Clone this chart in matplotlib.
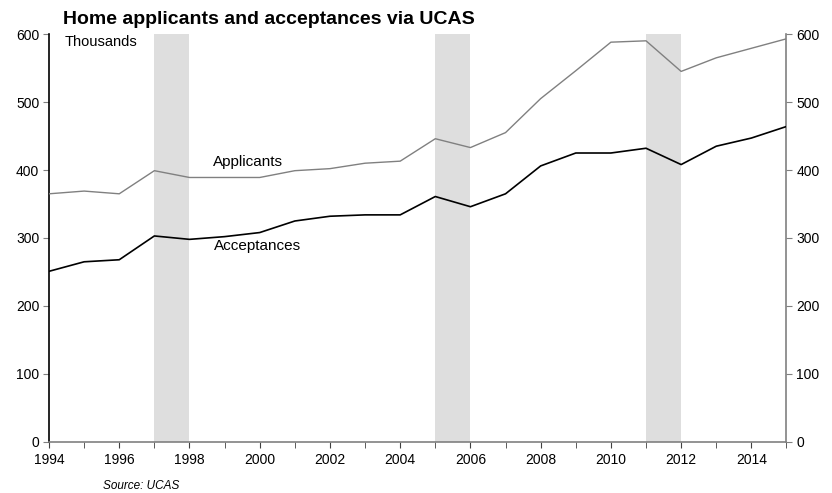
import matplotlib.pyplot as plt
from matplotlib.ticker import MultipleLocator

plt.rcParams['font.family'] = ['Liberation Sans', 'DejaVu Sans']

# ============================================
# Data (thousands)
# ============================================

years = list(range(1994, 2016))
applicants = [365, 369, 365, 399, 389, 389, 389, 399, 402, 410, 413,
              446, 433, 455, 505, 546, 588, 590, 545, 565, 579, 593]
acceptances = [251, 265, 268, 303, 298, 302, 308, 325, 332, 334, 334,
               361, 346, 365, 406, 425, 425, 432, 408, 435, 447, 464]

# shaded periods (start, end)
bands = [(1997, 1998), (2005, 2006), (2011, 2012)]

# ============================================
# Figure
# ============================================

fig = plt.figure(figsize=(8.32, 4.93), dpi=100)
ax = fig.add_axes([0.0589, 0.1035, 0.8864, 0.8275])

for start, end in bands:
    ax.axvspan(start, end, color='#dedede', lw=0, zorder=0)

ax.plot(years, applicants, color='#808080', lw=1.0, zorder=3)
ax.plot(years, acceptances, color='black', lw=1.2, zorder=3)

ax.set_xlim(1994, 2015)
ax.set_ylim(0, 600)
ax.xaxis.set_major_locator(MultipleLocator(2))
ax.xaxis.set_minor_locator(MultipleLocator(1))
ax.yaxis.set_major_locator(MultipleLocator(100))

ax.spines['top'].set_visible(False)
ax.spines['left'].set_color('black')
ax.spines['bottom'].set_color('#808080')
ax.spines['right'].set_color('#808080')
for s in ['left', 'bottom', 'right']:
    ax.spines[s].set_linewidth(1.2)

ax.tick_params(axis='x', which='both', direction='out', length=4,
               color='#404040', labelsize=10, pad=4)
ax.tick_params(axis='y', direction='out', length=4, color='#808080',
               labelsize=10, left=True, right=True, labelright=True, pad=3)

# labels on the chart
ax.text(1994.45, 598, 'Thousands', fontsize=10.5, va='top', ha='left')
ax.text(1998.67, 401, 'Applicants', fontsize=11, va='bottom', ha='left')
ax.text(1998.7, 299, 'Acceptances', fontsize=11, va='top', ha='left')

fig.text(0.0757, 0.951, 'Home applicants and acceptances via UCAS',
         fontsize=14, fontweight='bold', ha='left', va='baseline')
fig.text(0.124, 0.008, 'Source: UCAS', fontsize=8.5, style='italic',
         ha='left', va='baseline')

plt.savefig('out.png', dpi=100)
